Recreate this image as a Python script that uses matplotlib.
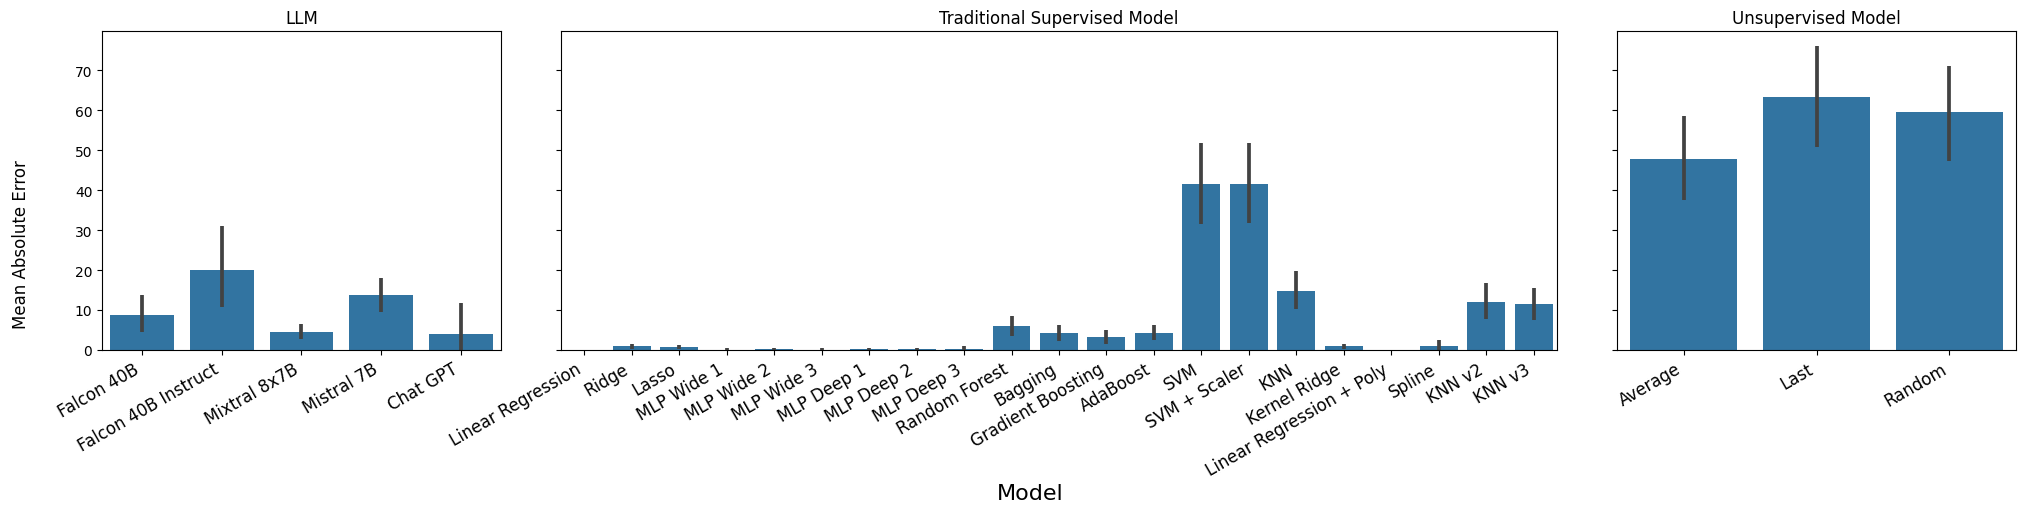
import matplotlib
matplotlib.use("Agg")
import matplotlib.pyplot as plt
import numpy as np

# LLM models
llmNames = ["Falcon 40B", "Falcon 40B Instruct", "Mixtral 8x7B", "Mistral 7B", "Chat GPT"]
llmMae = [8.75, 20.0, 4.5, 13.75, 4.0]
llmLow = [4.6, 10.8, 2.8, 9.6, 0.0]
llmHigh = [13.75, 31.0, 6.5, 18.0, 11.8]

# Traditional supervised models
supNames = ["Linear Regression", "Ridge", "Lasso", "MLP Wide 1", "MLP Wide 2", "MLP Wide 3",
            "MLP Deep 1", "MLP Deep 2", "MLP Deep 3", "Random Forest", "Bagging",
            "Gradient Boosting", "AdaBoost", "SVM", "SVM + Scaler", "KNN", "Kernel Ridge",
            "Linear Regression + Poly", "Spline", "KNN v2", "KNN v3"]
supMae = [0.0, 1.0, 0.75, 0.05, 0.25, 0.05, 0.25, 0.25, 0.25, 6.0, 4.25,
          3.25, 4.25, 41.5, 41.5, 14.75, 1.0, 0.0, 1.0, 12.0, 11.5]
supLow = [0.0, 0.35, 0.35, 0.0, 0.05, 0.0, 0.05, 0.05, 0.05, 3.5, 2.25,
          1.5, 2.5, 31.5, 31.75, 10.25, 0.25, 0.0, 0.0, 7.75, 7.5]
supHigh = [0.0, 1.5, 1.25, 0.5, 0.5, 0.5, 0.5, 0.5, 1.0, 8.5, 6.25,
           5.0, 6.25, 51.75, 51.75, 19.75, 1.5, 0.0, 2.5, 16.75, 15.5]

# Unsupervised models
unsupNames = ["Average", "Last", "Random"]
unsupMae = [47.75, 63.25, 59.5]
unsupLow = [37.5, 50.8, 47.25]
unsupHigh = [58.5, 75.9, 71.0]

barColour = "#3274a1"
errColour = "#424242"

fig, axes = plt.subplots(1, 3, figsize=(20.25, 5.1), dpi=100, sharey=True,
                         gridspec_kw={"width_ratios": [2, 5, 2]})
fig.subplots_adjust(left=0.0504, right=0.9955, top=0.9367, bottom=0.3118, wspace=0.1)

groups = [("LLM", llmNames, llmMae, llmLow, llmHigh),
          ("Traditional Supervised Model", supNames, supMae, supLow, supHigh),
          ("Unsupervised Model", unsupNames, unsupMae, unsupLow, unsupHigh)]

for ax, (title, names, mae, low, high) in zip(axes, groups):

  x = np.arange(len(names))
  ax.bar(x, mae, width=0.8, color=barColour)

  # Confidence intervals
  for i in range(len(names)):
    if high[i] > low[i]:
      ax.plot([x[i], x[i]], [low[i], high[i]], color=errColour, linewidth=2.7,
              solid_capstyle="butt")

  ax.set_xlim(-0.5, len(names) - 0.5)
  ax.set_xticks(x)
  ax.set_xticklabels(names, rotation=30, ha="right", fontsize=12)
  ax.set_title(title, fontsize=12)

axes[0].set_ylim(0, 79.7)
axes[0].set_yticks(np.arange(0, 80, 10))

fig.text(0.006, 0.52, "Mean Absolute Error", rotation=90, ha="left", va="center", fontsize=12)
fig.text(0.5086, 0.012, "Model", ha="center", va="bottom", fontsize=16)

fig.savefig("out.png", dpi=100)
